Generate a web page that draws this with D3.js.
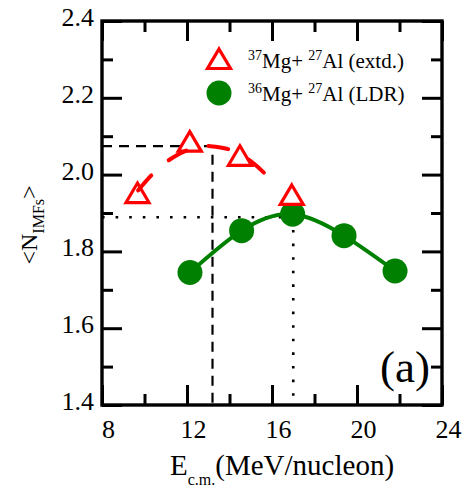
<!DOCTYPE html>
<html><head><meta charset="utf-8">
<script src="https://cdn.jsdelivr.net/npm/d3@7"></script>
<style>body{margin:0;background:#fff}svg{display:block}text{font-family:"Liberation Serif","Times New Roman",serif}</style>
</head><body>
<script>
// ---- data ----
const extdE = [9.67, 12.13, 14.49, 16.93];
const extdN = [1.952, 2.086, 2.049, 1.947];
const ldrE = [12.14, 14.57, 16.97, 19.39, 21.79];
const ldrN = [1.745, 1.854, 1.897, 1.841, 1.749];
const extdFitE = [9.7, 10.5, 11.5, 12.5, 13.1, 14.0, 15.0, 15.8];
const extdFitN = [1.959, 2.008, 2.050, 2.072, 2.074, 2.065, 2.035, 1.995];
const peakExtd = {E: 13.2, N: 2.074};
const peakLdr = {E: 17.0, N: 1.889};
const xMajor = [8, 12, 16, 20, 24];
const xMinor = [10, 14, 18, 22];
const yMajor = [1.4, 1.6, 1.8, 2.0, 2.2, 2.4];
const yMinor = [1.5, 1.7, 1.9, 2.1, 2.3];
const legendLabels = [["37", "Mg+ ", "27", "Al (extd.)"], ["36", "Mg+ ", "27", "Al (LDR)"]];

const W = 462, H = 491;
const L = 102, R = 442, T = 21, B = 405;
const x = d3.scaleLinear().domain([8, 24]).range([L, R]);
const y = d3.scaleLinear().domain([1.4, 2.4]).range([B, T]);
const FONT = '"Liberation Serif","Times New Roman",serif';

const svg = d3.select("body").append("svg").attr("width", W).attr("height", H);

// reference lines
svg.append("path")
  .attr("d", `M${x(8)},${y(peakExtd.N)}H${x(peakExtd.E)}V${y(1.4)}`)
  .attr("fill", "none").attr("stroke", "#000").attr("stroke-width", 2.2)
  .attr("stroke-dasharray", "10,7");
svg.append("path")
  .attr("d", `M${x(8)},${y(peakLdr.N)}H${x(peakLdr.E)}V${y(1.4)}`)
  .attr("fill", "none").attr("stroke", "#000").attr("stroke-width", 2.6)
  .attr("stroke-dasharray", "2.6,11");

// axes
function styleAxis(g) {
  g.attr("font-family", FONT);
  g.select(".domain").remove();
  g.selectAll(".tick line").attr("stroke", "#000").attr("stroke-width", 3);
  g.selectAll("text").attr("font-size", 26).attr("fill", "#000").attr("font-family", FONT);
}
svg.append("g").attr("transform", `translate(0,${B})`)
  .call(d3.axisBottom(x).tickValues(xMajor).tickSize(-20).tickPadding(15).tickFormat(d3.format("d")))
  .call(styleAxis).call(g => g.selectAll("text").attr("dx", 6));
svg.append("g").attr("transform", `translate(0,${B})`)
  .call(d3.axisBottom(x).tickValues(xMinor).tickSize(-11).tickFormat(""))
  .call(styleAxis);
svg.append("g").attr("transform", `translate(0,${T})`)
  .call(d3.axisTop(x).tickValues(xMajor).tickSize(-20).tickFormat(""))
  .call(styleAxis);
svg.append("g").attr("transform", `translate(0,${T})`)
  .call(d3.axisTop(x).tickValues(xMinor).tickSize(-11).tickFormat(""))
  .call(styleAxis);
svg.append("g").attr("transform", `translate(${L},0)`)
  .call(d3.axisLeft(y).tickValues(yMajor).tickSize(-20).tickPadding(8).tickFormat(d3.format(".1f")))
  .call(styleAxis).call(g => g.selectAll("text").attr("dy", 4.5));
svg.append("g").attr("transform", `translate(${L},0)`)
  .call(d3.axisLeft(y).tickValues(yMinor).tickSize(-11).tickFormat(""))
  .call(styleAxis);
svg.append("g").attr("transform", `translate(${R},0)`)
  .call(d3.axisRight(y).tickValues(yMajor).tickSize(-20).tickFormat(""))
  .call(styleAxis);
svg.append("g").attr("transform", `translate(${R},0)`)
  .call(d3.axisRight(y).tickValues(yMinor).tickSize(-11).tickFormat(""))
  .call(styleAxis);
svg.append("rect").attr("x", L).attr("y", T).attr("width", R - L).attr("height", B - T)
  .attr("fill", "none").attr("stroke", "#000").attr("stroke-width", 3.4);

// green LDR curve + points
const ldr = ldrE.map((e, i) => [e, ldrN[i]]);
svg.append("path").datum(ldr)
  .attr("d", d3.line().x(d => x(d[0])).y(d => y(d[1])).curve(d3.curveNatural))
  .attr("fill", "none").attr("stroke", "#008000").attr("stroke-width", 4);
svg.selectAll("circle.ldr").data(ldr).join("circle").attr("class", "ldr")
  .attr("cx", d => x(d[0])).attr("cy", d => y(d[1])).attr("r", 12.5).attr("fill", "#008000");

// red triangles
const tri = "M0,-10 L11.5,9.5 L-11.5,9.5 Z";
const extd = extdE.map((e, i) => [e, extdN[i]]);
svg.selectAll("path.extd").data(extd).join("path").attr("class", "extd")
  .attr("transform", d => `translate(${x(d[0])},${y(d[1])})`)
  .attr("d", tri).attr("fill", "#fff").attr("stroke", "#ff0000").attr("stroke-width", 3.2);

// red dashed fit
const fit = extdFitE.map((e, i) => [e, extdFitN[i]]);
svg.append("path").datum(fit)
  .attr("d", d3.line().x(d => x(d[0])).y(d => y(d[1])).curve(d3.curveNatural))
  .attr("fill", "none").attr("stroke", "#ff0000").attr("stroke-width", 4)
  .attr("stroke-dasharray", "20,23").attr("stroke-linecap", "round");

// legend
const lg = svg.append("g");
lg.append("path").attr("transform", "translate(219,59)").attr("d", tri)
  .attr("fill", "#fff").attr("stroke", "#ff0000").attr("stroke-width", 3.2);
lg.append("circle").attr("cx", 219).attr("cy", 93).attr("r", 12.5).attr("fill", "#008000");
legendLabels.forEach((lab, i) => {
  const t = lg.append("text").attr("x", 248).attr("y", 68 + i * 33).attr("font-size", 21)
    .attr("font-family", FONT).attr("fill", "#000");
  t.append("tspan").attr("font-size", 14).attr("dy", -8.5).text(lab[0]);
  t.append("tspan").attr("dy", 8.5).text(lab[1]);
  t.append("tspan").attr("font-size", 14).attr("dy", -8.5).text(lab[2]);
  t.append("tspan").attr("dy", 8.5).text(lab[3]);
});

// panel label
svg.append("text").attr("x", 405).attr("y", 382).attr("text-anchor", "middle")
  .attr("font-size", 45).attr("font-family", FONT).attr("fill", "#000").text("(a)");

// axis titles
const xt = svg.append("text").attr("x", 170).attr("y", 475).attr("text-anchor", "start")
  .attr("font-size", 29).attr("font-family", FONT).attr("fill", "#000");
xt.append("tspan").text("E");
xt.append("tspan").attr("font-size", 16).attr("dy", 10).text("c.m.");
xt.append("tspan").attr("dy", -10).text("(MeV/nucleon)");

const yt = svg.append("text").attr("transform", "translate(37,225) rotate(-90)")
  .attr("text-anchor", "middle").attr("font-size", 24).attr("font-family", FONT).attr("fill", "#000");
yt.append("tspan").text("<N");
yt.append("tspan").attr("font-size", 16).attr("dy", 7).text("IMFs");
yt.append("tspan").attr("dy", -7).text(">");
</script>
</body></html>
